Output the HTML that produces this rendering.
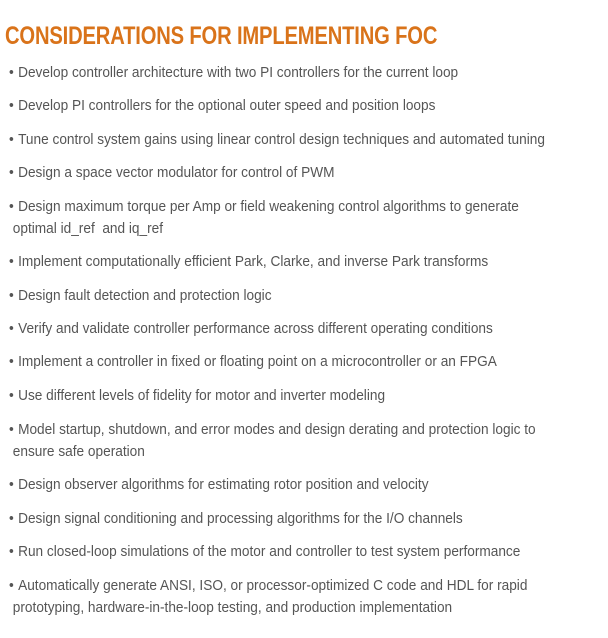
<!DOCTYPE html>
<html><head><meta charset="utf-8"><style>
html,body{margin:0;padding:0;background:#fff;width:608px;height:638px;overflow:hidden}
body{position:relative;font-family:"Liberation Sans",sans-serif}
h1{position:absolute;left:5px;top:22px;margin:0;font-size:25px;font-weight:bold;color:#d9731a;white-space:nowrap;transform:scaleX(0.807);transform-origin:left top;letter-spacing:-0.2px}
.it{position:absolute;left:9px;font-size:15px;line-height:22px;color:#555;white-space:nowrap;transform:scaleX(0.91);transform-origin:left top}
.it b{font-weight:normal;display:inline-block;width:10px}
</style></head><body>
<h1>CONSIDERATIONS FOR IMPLEMENTING FOC</h1>
<div class="it" style="top:62px"><b>•</b>Develop controller architecture with two PI controllers for the current loop</div>
<div class="it" style="top:95px"><b>•</b>Develop PI controllers for the optional outer speed and position loops</div>
<div class="it" style="top:129px"><b>•</b>Tune control system gains using linear control design techniques and automated tuning</div>
<div class="it" style="top:162px"><b>•</b>Design a space vector modulator for control of PWM</div>
<div class="it" style="top:196px"><b>•</b>Design maximum torque per Amp or field weakening control algorithms to generate<br>&nbsp;optimal id_ref&nbsp; and iq_ref</div>
<div class="it" style="top:251px"><b>•</b>Implement computationally efficient Park, Clarke, and inverse Park transforms</div>
<div class="it" style="top:285px"><b>•</b>Design fault detection and protection logic</div>
<div class="it" style="top:318px"><b>•</b>Verify and validate controller performance across different operating conditions</div>
<div class="it" style="top:351px"><b>•</b>Implement a controller in fixed or floating point on a microcontroller or an FPGA</div>
<div class="it" style="top:385px"><b>•</b>Use different levels of fidelity for motor and inverter modeling</div>
<div class="it" style="top:419px"><b>•</b>Model startup, shutdown, and error modes and design derating and protection logic to<br>&nbsp;ensure safe operation</div>
<div class="it" style="top:474px"><b>•</b>Design observer algorithms for estimating rotor position and velocity</div>
<div class="it" style="top:508px"><b>•</b>Design signal conditioning and processing algorithms for the I/O channels</div>
<div class="it" style="top:541px"><b>•</b>Run closed-loop simulations of the motor and controller to test system performance</div>
<div class="it" style="top:575px"><b>•</b>Automatically generate ANSI, ISO, or processor-optimized C code and HDL for rapid<br>&nbsp;prototyping, hardware-in-the-loop testing, and production implementation</div>
</body></html>
